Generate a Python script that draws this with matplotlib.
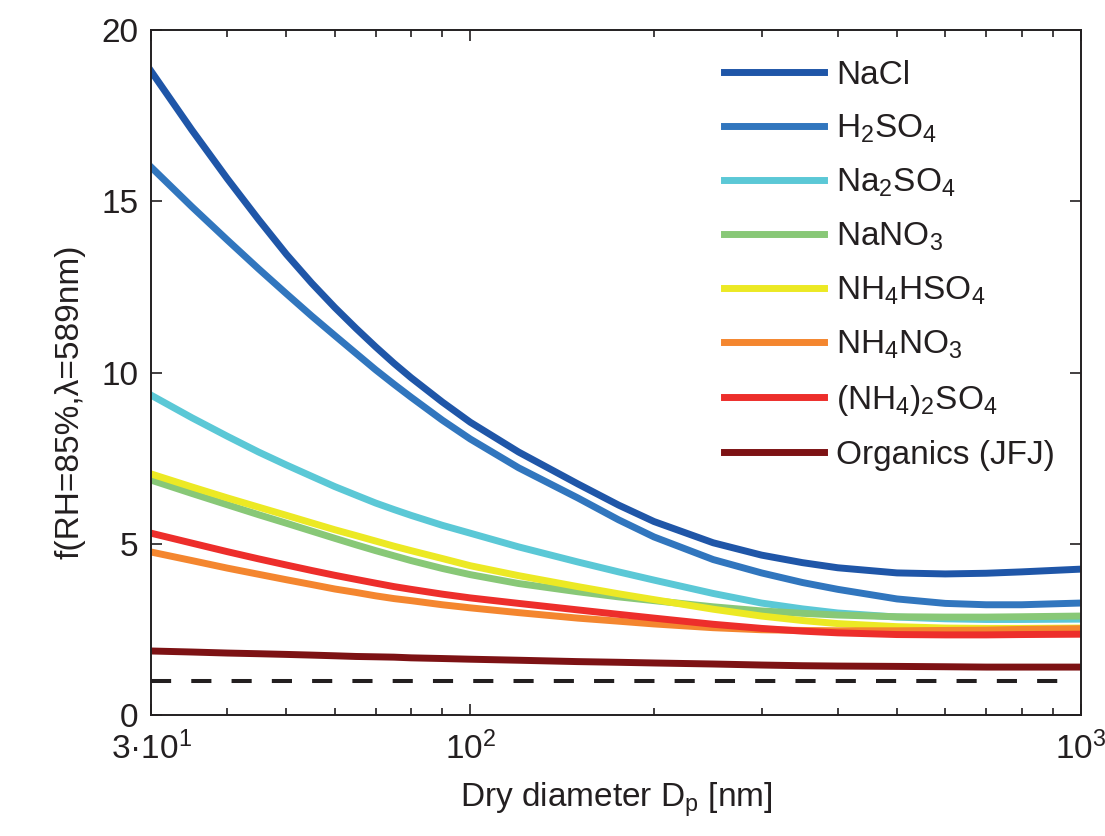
import matplotlib
matplotlib.use("Agg")
import matplotlib.pyplot as plt
from matplotlib.ticker import FixedLocator, NullFormatter

plt.rcParams['font.family'] = ['Liberation Sans', 'DejaVu Sans']
plt.rcParams['mathtext.default'] = 'regular'

# dry diameter [nm]
diam = [30, 35, 40, 45, 50, 55, 60, 65, 70, 75, 80, 90, 100, 120, 150, 175,
        200, 250, 300, 350, 400, 500, 600, 700, 800, 1000]

# f(RH=85%)
nacl = [18.8, 17.08, 15.66, 14.47, 13.45, 12.61, 11.9, 11.29, 10.75, 10.27, 9.85, 9.14, 8.55,
        7.68, 6.75, 6.13, 5.65, 5.03, 4.67, 4.45, 4.3, 4.15, 4.12, 4.14, 4.18, 4.26]
h2so4 = [16.0, 14.84, 13.87, 13.03, 12.3, 11.65, 11.08, 10.56, 10.08, 9.66, 9.28, 8.61, 8.06,
         7.22, 6.34, 5.7, 5.2, 4.54, 4.15, 3.87, 3.67, 3.39, 3.26, 3.22, 3.22, 3.27]
na2so4 = [9.34, 8.68, 8.14, 7.68, 7.3, 6.97, 6.67, 6.42, 6.19, 6.0, 5.83, 5.54, 5.31,
          4.91, 4.47, 4.18, 3.94, 3.55, 3.27, 3.1, 2.98, 2.86, 2.81, 2.79, 2.79, 2.8]
nano3 = [6.86, 6.47, 6.14, 5.85, 5.6, 5.37, 5.16, 4.97, 4.8, 4.65, 4.51, 4.28, 4.1,
         3.84, 3.6, 3.45, 3.34, 3.16, 3.04, 2.97, 2.92, 2.87, 2.86, 2.86, 2.87, 2.89]
nh4hso4 = [7.04, 6.66, 6.34, 6.07, 5.83, 5.61, 5.41, 5.24, 5.08, 4.93, 4.8, 4.57, 4.36,
           4.07, 3.75, 3.54, 3.37, 3.09, 2.89, 2.76, 2.67, 2.58, 2.54, 2.53, 2.53, 2.54]
nh4no3 = [4.76, 4.51, 4.29, 4.11, 3.95, 3.81, 3.68, 3.58, 3.48, 3.4, 3.34, 3.22, 3.13,
          2.99, 2.83, 2.74, 2.66, 2.55, 2.49, 2.47, 2.46, 2.46, 2.47, 2.48, 2.5, 2.52]
nh42so4 = [5.31, 5.02, 4.77, 4.56, 4.38, 4.22, 4.08, 3.96, 3.85, 3.75, 3.67, 3.53, 3.42,
           3.26, 3.07, 2.94, 2.83, 2.65, 2.53, 2.45, 2.4, 2.35, 2.34, 2.34, 2.35, 2.36]
organics = [1.87, 1.84, 1.81, 1.79, 1.77, 1.75, 1.73, 1.71, 1.7, 1.69, 1.67, 1.65, 1.63,
            1.6, 1.56, 1.54, 1.52, 1.49, 1.46, 1.44, 1.43, 1.42, 1.41, 1.4, 1.4, 1.4]

series = [nacl, h2so4, na2so4, nano3, nh4hso4, nh4no3, nh42so4, organics]
labels = ['NaCl', '$H_2SO_4$', '$Na_2SO_4$', '$NaNO_3$', '$NH_4HSO_4$',
          '$NH_4NO_3$', '$(NH_4)_2SO_4$', 'Organics (JFJ)']
colors = ['#1f56a8', '#3176be', '#5bc8d6', '#88c877', '#ece924',
          '#f4862f', '#ed2e2b', '#7d1214']

txt = '#231f20'
fig = plt.figure(figsize=(11.05, 8.36), dpi=100)
ax = fig.add_axes([0.1367, 0.1447, 0.8413, 0.8193])

for y, lab, c in zip(series, labels, colors):
    ax.plot(diam, y, color=c, lw=5, label=lab, solid_joinstyle='round')

# reference line f = 1
ax.plot([30, 940], [1, 1], color=txt, lw=2.9, dashes=(5, 5))

ax.set_xscale('log')
ax.set_xlim(30, 1000)
ax.set_ylim(0, 20)
ax.xaxis.set_major_locator(FixedLocator([30, 100, 1000]))
ax.set_xticklabels(['3·10$^1$', '10$^2$', '10$^3$'])
ax.xaxis.set_minor_locator(FixedLocator([40, 50, 60, 70, 80, 90, 200, 300, 400, 500, 600, 700, 800, 900]))
ax.xaxis.set_minor_formatter(NullFormatter())
ax.set_yticks([0, 5, 10, 15, 20])

ax.tick_params(which='both', direction='in', top=True, right=True, colors=txt,
               labelsize=24, width=1.2)
ax.tick_params(which='major', length=8)
ax.tick_params(which='minor', length=5)
ax.tick_params(axis='y', pad=9)
ax.tick_params(axis='x', pad=12)
for s in ax.spines.values():
    s.set_color(txt)
    s.set_linewidth(1.4)

ax.set_xlabel('Dry diameter D$_p$ [nm]', fontsize=24, color=txt, labelpad=10)
ax.set_ylabel('f(RH=85%,λ=589nm)', fontsize=24, color=txt)
ax.yaxis.set_label_coords(-0.07, 0.458)

leg = ax.legend(loc='upper right', bbox_to_anchor=(1.005, 1.0), frameon=False,
                fontsize=24, handlelength=3.0, handletextpad=0.36, labelspacing=0.65)
for t in leg.get_texts():
    t.set_color(txt)

fig.savefig('out.png', dpi=100)
